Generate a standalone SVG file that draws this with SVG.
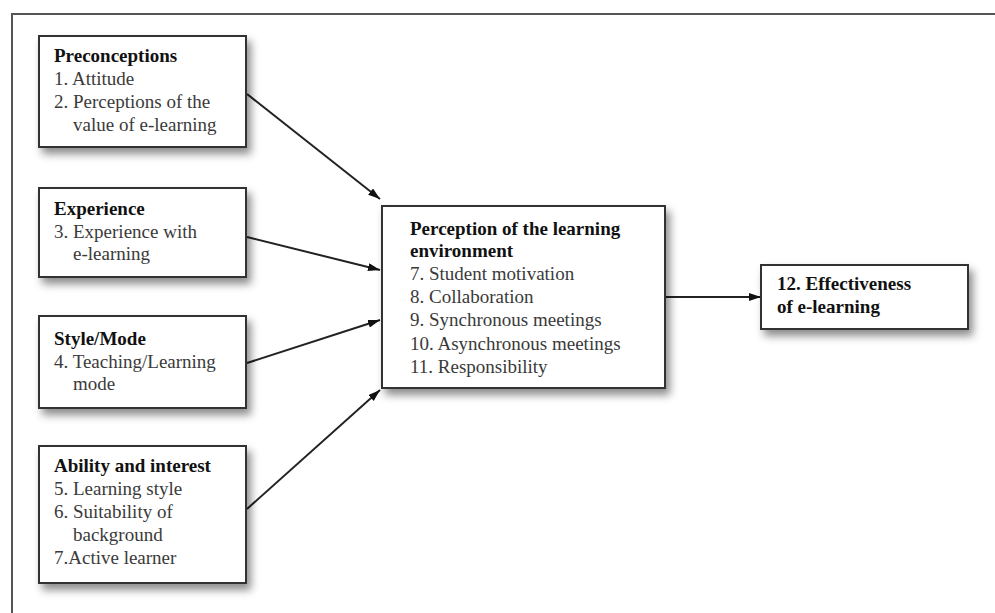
<svg xmlns="http://www.w3.org/2000/svg" width="995" height="613" viewBox="0 0 995 613">
<defs>
<filter id="sh" x="-10%" y="-10%" width="130%" height="140%">
<feDropShadow dx="4" dy="6" stdDeviation="4" flood-color="#000" flood-opacity="0.45"/>
</filter>
<marker id="ah" viewBox="0 0 12 8" refX="12" refY="4" markerWidth="12" markerHeight="8" markerUnits="userSpaceOnUse" orient="auto">
<path d="M0,0 L12,4 L0,8 z" fill="#111"/>
</marker>
<style>
.box{fill:#fff;stroke:#333;stroke-width:2;filter:url(#sh)}
.t{font-family:"Liberation Serif","Times New Roman",serif;font-size:19px;fill:#3a3a3a}
.b{font-weight:bold;fill:#111}
.c{stroke:#222;stroke-width:2;fill:none;marker-end:url(#ah)}
</style>
</defs>
<rect width="995" height="613" fill="#fff"/>
<path d="M12,613 V14 H995" fill="none" stroke="#555" stroke-width="2"/>
<g id="connectors">
<line class="c" x1="247" y1="94" x2="380" y2="199"/>
<line class="c" x1="247" y1="237" x2="380" y2="270"/>
<line class="c" x1="247" y1="363" x2="380" y2="320"/>
<line class="c" x1="247" y1="509" x2="380" y2="390"/>
<line class="c" x1="665" y1="297" x2="761" y2="297"/>
</g>
<g id="preconceptions">
<rect class="box" x="39" y="36" width="207" height="111"/>
<text class="t b" x="54" y="62">Preconceptions</text>
<text class="t" x="54" y="85">1. Attitude</text>
<text class="t" x="54" y="108">2. Perceptions of the</text>
<text class="t" x="73" y="131">value of e-learning</text>
</g>
<g id="experience">
<rect class="box" x="39" y="188" width="207" height="89"/>
<text class="t b" x="54" y="215">Experience</text>
<text class="t" x="54" y="238">3. Experience with</text>
<text class="t" x="73" y="260">e-learning</text>
</g>
<g id="style-mode">
<rect class="box" x="39" y="316" width="207" height="92"/>
<text class="t b" x="54" y="345">Style/Mode</text>
<text class="t" x="54" y="368">4. Teaching/Learning</text>
<text class="t" x="73" y="390">mode</text>
</g>
<g id="ability">
<rect class="box" x="39" y="446" width="207" height="137"/>
<text class="t b" x="54" y="472">Ability and interest</text>
<text class="t" x="54" y="495">5. Learning style</text>
<text class="t" x="54" y="518">6. Suitability of</text>
<text class="t" x="73" y="541">background</text>
<text class="t" x="54" y="564">7.Active learner</text>
</g>
<g id="perception">
<rect class="box" x="382" y="206" width="283" height="182"/>
<text class="t b" x="410" y="235">Perception of the learning</text>
<text class="t b" x="410" y="257">environment</text>
<text class="t" x="410" y="280">7. Student motivation</text>
<text class="t" x="410" y="303">8. Collaboration</text>
<text class="t" x="410" y="326">9. Synchronous meetings</text>
<text class="t" x="410" y="350">10. Asynchronous meetings</text>
<text class="t" x="410" y="373">11. Responsibility</text>
</g>
<g id="effectiveness">
<rect class="box" x="761" y="265" width="207" height="64"/>
<text class="t b" x="777" y="290">12. Effectiveness</text>
<text class="t b" x="777" y="313">of e-learning</text>
</g>
</svg>
